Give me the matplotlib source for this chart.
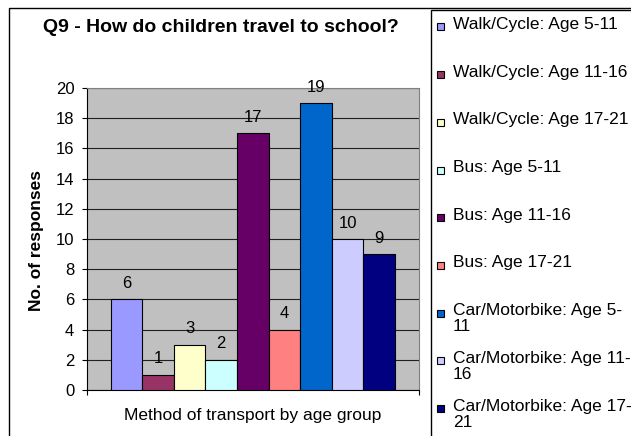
import matplotlib.pyplot as plt
from matplotlib.patches import Rectangle

plt.rcParams['font.family'] = ['Liberation Sans', 'DejaVu Sans']

series = ['Walk/Cycle: Age 5-11', 'Walk/Cycle: Age 11-16', 'Walk/Cycle: Age 17-21',
          'Bus: Age 5-11', 'Bus: Age 11-16', 'Bus: Age 17-21',
          'Car/Motorbike: Age 5-\n11', 'Car/Motorbike: Age 11-\n16', 'Car/Motorbike: Age 17-\n21']
values = [6, 1, 3, 2, 17, 4, 19, 10, 9]
colors = ['#9999FF', '#993366', '#FFFFCC', '#CCFFFF', '#660066',
          '#FF8080', '#0066CC', '#CCCCFF', '#000080']
yticks = list(range(0, 21, 2))

W, H = 631, 436
fig = plt.figure(figsize=(W / 100, H / 100), dpi=100)

# outer chart border, cut off at the right and bottom like the original
fig.patches.append(Rectangle((9 / W, -0.05), 1.1, 1 - 8 / H + 0.05, transform=fig.transFigure,
                             fill=False, edgecolor='black', linewidth=1.0))

ax = fig.add_axes([87 / W, 1 - 390 / H, (419 - 87) / W, (390 - 88) / H])
ax.set_facecolor('#C0C0C0')

for i, (lab, v, c) in enumerate(zip(series, values, colors)):
    ax.bar(i, v, width=1.0, color=c, edgecolor='black', linewidth=0.8, label=lab, zorder=3)
    ax.annotate(str(v), (i, v), xytext=(0, 11.5), textcoords='offset points',
                ha='center', va='center', fontsize=12, zorder=4)

ax.set_xlim(-0.5 - 0.75, 8.5 + 0.76)
ax.set_ylim(0, 20)
ax.set_yticks(yticks)
ax.yaxis.grid(True, color='#202020', linewidth=0.8, zorder=1)
ax.set_axisbelow(True)
ax.set_xticks(ax.get_xlim())
ax.set_xticklabels([])
ax.tick_params(axis='x', length=3.6, direction='out', width=0.8)
ax.tick_params(axis='y', length=3.6, direction='out', width=0.8, labelsize=12, pad=5.5)
for s in ['top', 'right']:
    ax.spines[s].set_color('#808080')
    ax.spines[s].set_linewidth(0.8)
for s in ['left', 'bottom']:
    ax.spines[s].set_linewidth(0.8)

fig.text(253 / W, 1 - 415 / H, 'Method of transport by age group', ha='center', va='center',
         fontsize=12.5)
fig.text(37 / W, 1 - 240 / H, 'No. of responses', ha='center', va='center', rotation=90,
         fontsize=12.5, fontweight='bold')
fig.text(221 / W, 1 - 27 / H, 'Q9 - How do children travel to school?', ha='center', va='center',
         fontsize=14, fontweight='bold')

# legend box, also cut off at the right and bottom
fig.patches.append(Rectangle((431 / W, -0.05), 1.0, 1 - 10 / H + 0.05, transform=fig.transFigure,
                             facecolor='white', edgecolor='black', linewidth=1.0))
for i, (lab, c) in enumerate(zip(series, colors)):
    yc = 27 + 47.7 * i
    fig.patches.append(Rectangle((437 / W, 1 - (yc + 3.5) / H), 7 / W, 7 / H,
                                 transform=fig.transFigure, facecolor=c,
                                 edgecolor='black', linewidth=0.8))
    fig.text(453 / W, 1 - (yc - 10) / H, lab, ha='left', va='top', fontsize=12.5,
             linespacing=1.1)

fig.savefig('out.png', dpi=100)
